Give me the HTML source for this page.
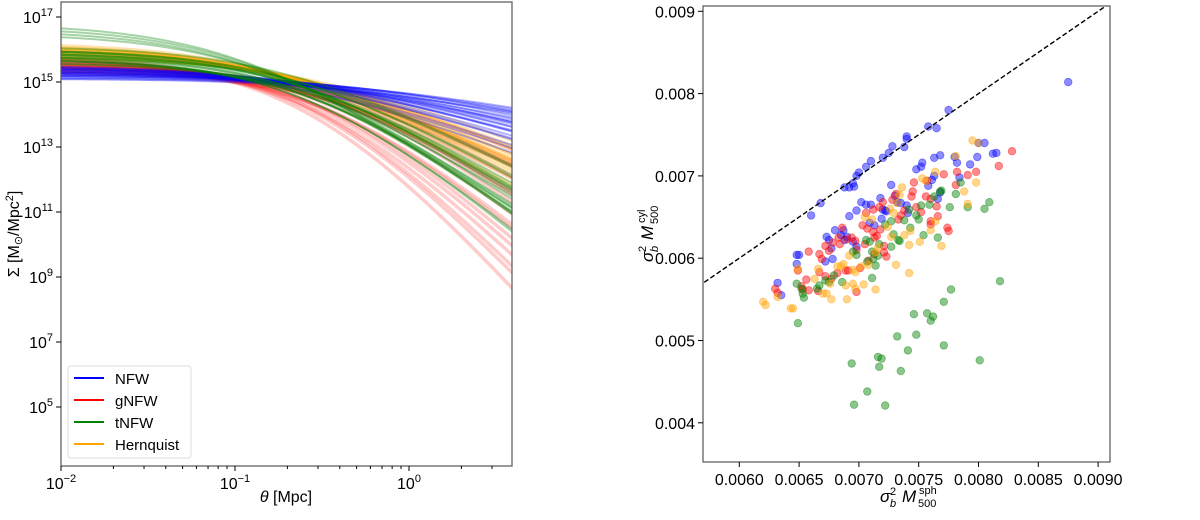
<!DOCTYPE html>
<html><head><meta charset="utf-8"><style>
body{margin:0;background:#fff;width:1200px;height:515px;overflow:hidden}
svg text{font-family:"Liberation Sans","DejaVu Sans",sans-serif;fill:#000}
</style></head><body>
<svg id="fig" width="1200" height="515" xmlns="http://www.w3.org/2000/svg">
<g id="left"></g>
<g id="right"></g>
</svg>
<script>
// ---- Left panel data: per-model profile parameters (log10 amplitude, scale radius, outer slope)
const models = ["NFW","gNFW","tNFW","Hernquist"];
const modelColors = ["#0000ff","#ff0000","#008000","#ffa500"];
const nfwLogA = [15.1,15.15,15.2,15.25,15.3,15.35,15.4,15.45,15.5,15.2,15.3,15.4,15.15,15.35,15.45,15.25,15.5,15.1,15.3,15.4,15.2,15.35,15.45,15.25];
const nfwRs   = [0.30,0.32,0.28,0.26,0.25,0.24,0.22,0.20,0.19,0.35,0.30,0.25,0.40,0.28,0.22,0.33,0.18,0.45,0.27,0.21,0.38,0.23,0.2,0.3];
const nfwK    = [0.9,1.0,1.1,1.2,1.3,1.4,1.5,1.6,1.7,1.0,1.25,1.45,0.95,1.35,1.55,1.15,1.8,0.9,1.5,1.65,1.05,1.9,2.0,1.3];
const gnfwLogA = [15.3,15.4,15.5,15.6,15.7,15.8,15.5,15.6,15.4,15.7,15.3,15.5,15.6,15.8,15.45,15.55,15.65,15.5,15.35,15.75];
const gnfwRs   = [0.30,0.32,0.35,0.33,0.30,0.28,0.40,0.36,0.38,0.30,0.45,0.34,0.31,0.27,0.42,0.37,0.3,0.33,0.4,0.29];
const gnfwK    = [2.5,3.0,3.6,4.2,4.8,5.5,3.3,4.0,2.8,5.0,2.4,3.5,4.5,6.0,3.0,3.8,5.2,4.4,2.7,5.7];
const tnfwLogA = [16.8,16.7,16.6,16.5,15.8,15.9,16.0,15.7,15.6,16.1,15.8,15.9,15.7,16.0,15.6,15.75,15.85,15.95,15.7,15.9,16.0,15.8];
const tnfwRs   = [0.10,0.10,0.11,0.11,0.25,0.22,0.20,0.28,0.30,0.18,0.24,0.21,0.26,0.19,0.32,0.27,0.23,0.20,0.29,0.22,0.2,0.25];
const tnfwK    = [3.6,3.4,3.5,3.2,3.6,3.3,3.0,4.0,3.5,2.7,4.3,3.1,3.8,2.9,3.4,4.5,3.9,3.2,4.1,3.7,3.3,2.8];
const hernLogA = [15.8,15.9,16.0,16.1,16.2,15.85,15.95,16.05,16.15,15.75,16.0,15.9,16.1,15.8,16.05,15.95];
const hernRs   = [0.20,0.18,0.17,0.16,0.15,0.19,0.17,0.16,0.15,0.22,0.18,0.19,0.16,0.2,0.17,0.18];
const hernK    = [2.1,2.3,2.5,2.7,2.9,2.2,2.4,2.6,3.0,2.0,2.8,2.35,3.1,2.15,2.55,2.45];
const xTickExp = [-2,-1,0];
const yTickExp = [5,7,9,11,13,15,17];

// ---- Right panel data
const scatterXTicks = ["0.0060","0.0065","0.0070","0.0075","0.0080","0.0085","0.0090"];
const scatterYTicks = ["0.004","0.005","0.006","0.007","0.008","0.009"];
const blueX=[0.00875,0.00775,0.00758,0.00765,0.0074,0.0074,0.00738,0.00728,0.00725,0.0072,0.0071,0.00706,0.007,0.00698,0.00695,0.00696,0.00692,0.00688,0.00668,0.0066,0.00805,0.008,0.00815,0.00812,0.0078,0.00768,0.00763,0.00782,0.00793,0.00799,0.00753,0.00752,0.00748,0.00763,0.00761,0.00784,0.00727,0.0073,0.00702,0.00706,0.0071,0.00718,0.0072,0.00722,0.00723,0.0074,0.00735,0.00698,0.00692,0.00687,0.0068,0.00685,0.00673,0.00675,0.00677,0.00648,0.0065,0.00632,0.00635,0.00648,0.00678,0.00672,0.00688,0.00695,0.00698,0.0069,0.00758,0.00766,0.00768,0.00709,0.00713,0.00719,0.00732,0.00741];
const blueY=[0.00814,0.0078,0.0076,0.00758,0.00748,0.00745,0.00735,0.00736,0.00728,0.00722,0.00718,0.00711,0.00704,0.007,0.00691,0.00687,0.00686,0.00686,0.00667,0.00652,0.0074,0.0074,0.00728,0.00727,0.00723,0.00725,0.00722,0.00716,0.00714,0.00723,0.00716,0.00711,0.00708,0.007,0.00695,0.00698,0.00689,0.00676,0.00668,0.00665,0.00665,0.00673,0.00659,0.00658,0.00657,0.00664,0.00667,0.00658,0.00651,0.00634,0.00634,0.00628,0.00626,0.00622,0.00612,0.00604,0.00604,0.0057,0.00555,0.00593,0.00599,0.00596,0.00622,0.0062,0.00614,0.00626,0.00688,0.00672,0.0068,0.00643,0.0064,0.00648,0.00668,0.00655];
const redX=[0.00828,0.00817,0.00798,0.00791,0.00782,0.00781,0.00771,0.00757,0.00746,0.00745,0.00744,0.00756,0.0076,0.00765,0.00766,0.0076,0.0076,0.00774,0.00775,0.00752,0.00748,0.00738,0.00735,0.00733,0.00731,0.00728,0.0072,0.00717,0.00712,0.00706,0.00703,0.00707,0.00712,0.00715,0.00718,0.00713,0.00705,0.00721,0.00721,0.00723,0.00713,0.00708,0.00701,0.00698,0.00697,0.00694,0.0069,0.00686,0.00683,0.00684,0.00678,0.00672,0.00675,0.00667,0.00669,0.00658,0.00667,0.00672,0.00677,0.00682,0.00689,0.00649,0.00656,0.00658,0.00652,0.00653,0.00666,0.0063,0.00632,0.00698,0.00691];
const redY=[0.0073,0.00712,0.00705,0.00701,0.00705,0.00689,0.00702,0.00694,0.00692,0.00681,0.00675,0.00675,0.00672,0.00663,0.00651,0.00645,0.00641,0.00637,0.00633,0.00656,0.00662,0.00658,0.00652,0.00647,0.00678,0.00671,0.00668,0.00662,0.00659,0.00655,0.0064,0.00636,0.00632,0.00627,0.00635,0.00625,0.00617,0.00615,0.00607,0.00602,0.00605,0.00597,0.00588,0.0061,0.00621,0.00625,0.00623,0.00637,0.00625,0.00617,0.00619,0.00615,0.00609,0.00605,0.00599,0.00608,0.00583,0.00578,0.00575,0.00582,0.00585,0.00585,0.00574,0.00561,0.00566,0.00562,0.0056,0.00563,0.00558,0.00559,0.00585];
const greenX=[0.00818,0.00809,0.00805,0.00791,0.00785,0.00781,0.00776,0.00769,0.00768,0.00766,0.00777,0.00771,0.00762,0.0076,0.00757,0.00746,0.00748,0.00771,0.00741,0.00732,0.00735,0.00716,0.00719,0.00717,0.00694,0.00707,0.00696,0.00722,0.00801,0.00649,0.00654,0.00653,0.00648,0.00652,0.00665,0.00667,0.00672,0.00675,0.00679,0.00686,0.00695,0.00698,0.00707,0.00712,0.00714,0.00711,0.00716,0.00717,0.00722,0.00727,0.00729,0.00727,0.00734,0.00743,0.00748,0.00752,0.00754,0.00759,0.00763,0.0075,0.00742,0.00738,0.00733,0.00706,0.00709,0.00711];
const greenY=[0.00572,0.00668,0.0066,0.00662,0.00692,0.00678,0.00662,0.00682,0.00681,0.00625,0.00562,0.00547,0.00529,0.00524,0.00533,0.00532,0.00507,0.00494,0.00488,0.00505,0.00463,0.0048,0.00478,0.00468,0.00472,0.00438,0.00422,0.00421,0.00476,0.00521,0.00552,0.00557,0.00569,0.00563,0.00563,0.00567,0.00573,0.00571,0.00579,0.00571,0.00608,0.00604,0.00596,0.00599,0.00591,0.00576,0.00603,0.00617,0.00641,0.00645,0.00629,0.00614,0.00621,0.00637,0.00652,0.00664,0.00628,0.00665,0.00675,0.00647,0.00659,0.00646,0.00622,0.00622,0.0062,0.00608];
const orangeX=[0.00795,0.008,0.00781,0.00798,0.00788,0.00791,0.00769,0.00764,0.0076,0.00753,0.00756,0.00764,0.00751,0.00742,0.00742,0.00731,0.00736,0.00734,0.00732,0.00726,0.00738,0.00743,0.00727,0.00724,0.00716,0.00714,0.00714,0.00702,0.00708,0.00704,0.00695,0.00697,0.00695,0.00697,0.00689,0.0069,0.00692,0.00685,0.00687,0.00682,0.00676,0.00673,0.00677,0.0067,0.00666,0.00663,0.00649,0.00645,0.00643,0.00632,0.0062,0.00622,0.00711,0.00705,0.00729];
const orangeY=[0.00743,0.0074,0.00724,0.00692,0.00681,0.00666,0.00615,0.00645,0.00634,0.00697,0.00694,0.00705,0.0062,0.00616,0.00582,0.00592,0.00686,0.00677,0.00667,0.0066,0.00628,0.00633,0.00626,0.00638,0.00613,0.00607,0.00562,0.0059,0.00592,0.00568,0.00569,0.00563,0.00586,0.00583,0.00567,0.0055,0.00603,0.0059,0.00593,0.0059,0.00569,0.00557,0.0055,0.00557,0.00587,0.00575,0.00587,0.00539,0.00539,0.00553,0.00547,0.00543,0.00647,0.0065,0.00655];

const NS="http://www.w3.org/2000/svg";
function mk(parent,tag,attrs,text){const e=document.createElementNS(NS,tag);for(const k in attrs)e.setAttribute(k,attrs[k]);if(text!==undefined)e.innerHTML=text;parent.appendChild(e);return e;}

// ---- Left panel
const L={x0:61,x1:512,y0:2,y1:466};
const lx=v=>L.x0+(Math.log10(v)+2)*174;
const ly=l=>17+(17-l)*32.5;
const left=document.getElementById('left');
const clipL=mk(left,'clipPath',{id:'cl'});mk(clipL,'rect',{x:L.x0,y:L.y0,width:L.x1-L.x0,height:L.y1-L.y0});
const curveG=mk(left,'g',{'clip-path':'url(#cl)'});


function drawFamily(logA,rs,k,color,name,alpha,w){
  for(let i=0;i<logA.length;i++){
    let d='';
    for(let j=0;j<=80;j++){
      const t=Math.pow(10,-2+j*(0.6+2)/80);
      const l=logA[i]-k[i]*Math.log10(1+t/rs[i]);
      d+=(j?'L':'M')+lx(t).toFixed(1)+','+ly(l).toFixed(1);
    }
    const p=mk(curveG,'path',{d:d,fill:'none',stroke:color,'stroke-opacity':alpha,'stroke-width':w});
    
    
  }
}
drawFamily(gnfwLogA,gnfwRs,gnfwK,modelColors[1],'gnfw',0.2,3.5);
drawFamily(hernLogA,hernRs,hernK,modelColors[3],'hernquist',0.3,3);
drawFamily(nfwLogA,nfwRs,nfwK,modelColors[0],'nfw',0.3,2);
drawFamily(tnfwLogA,tnfwRs,tnfwK,modelColors[2],'tnfw',0.35,2);
mk(left,'rect',{x:L.x0,y:L.y0,width:L.x1-L.x0,height:L.y1-L.y0,fill:'none',stroke:'#555','stroke-width':1.2,});
xTickExp.forEach(e=>{
  const x=lx(Math.pow(10,e));
  mk(left,'line',{x1:x,x2:x,y1:L.y1,y2:L.y1+5,stroke:'#000'});
  const t=mk(left,'text',{x:x,y:L.y1+23,'font-size':16,'text-anchor':'middle'},'10<tspan dy="-7" font-size="11">'+(e<0?'\u2212'+(-e):e)+'</tspan>');
  
  
  for(let m=2;m<=9;m++){const v=m*Math.pow(10,e);const xm=lx(v);if(xm<=L.x1)mk(left,'line',{x1:xm,x2:xm,y1:L.y1,y2:L.y1+3,stroke:'#000'});}
});
yTickExp.forEach(e=>{
  const y=ly(e);
  mk(left,'line',{x1:L.x0-5,x2:L.x0,y1:y,y2:y,stroke:'#000'});
  const t=mk(left,'text',{x:L.x0-8,y:y+6,'font-size':16,'text-anchor':'end'},'10<tspan dy="-7" font-size="11">'+e+'</tspan>');
  
  
});
mk(left,'text',{x:286,y:502,'font-size':16,'text-anchor':'middle',},'<tspan font-style="italic">θ</tspan> [Mpc]');
mk(left,'text',{transform:'translate(19,234) rotate(-90)','font-size':16,'text-anchor':'middle',},'Σ [M<tspan font-size="11" dy="3">⊙</tspan><tspan dy="-3">/Mpc</tspan><tspan dy="-6" font-size="11">2</tspan><tspan dy="6">]</tspan>');
const leg=mk(left,'g',{});
mk(leg,'rect',{x:68,y:366,width:123,height:92,rx:3,fill:'#fff','fill-opacity':0.8,stroke:'#ddd'});
models.forEach((m,i)=>{
  const y=378+i*22;
  const g=mk(leg,'g',{});
  
  
  mk(g,'line',{x1:74,x2:104,y1:y,y2:y,stroke:modelColors[i],'stroke-width':2});
  mk(g,'text',{x:115,y:y+6,'font-size':15},m);
});

// ---- Right panel
const R={x0:703,x1:1110,y0:6,y1:462};
const rx=v=>739.3+(v-0.006)/0.0005*59.8;
const ry=v=>11.3+(0.009-v)/0.001*82.3;
const right=document.getElementById('right');
const clipR=mk(right,'clipPath',{id:'cr'});mk(clipR,'rect',{x:R.x0,y:R.y0,width:R.x1-R.x0,height:R.y1-R.y0});
const pts=mk(right,'g',{'clip-path':'url(#cr)'});


function drawPts(X,Y,color,name){
  for(let i=0;i<X.length;i++){
    const c=mk(pts,'circle',{cx:rx(X[i]).toFixed(1),cy:ry(Y[i]).toFixed(1),r:3.8,fill:color,'fill-opacity':0.45,stroke:color,'stroke-opacity':0.45,'stroke-width':0.8});
    
    
  }
}
drawPts(blueX,blueY,'#0000ff','nfw');
drawPts(redX,redY,'#ff0000','gnfw');
drawPts(greenX,greenY,'#008000','tnfw');
drawPts(orangeX,orangeY,'#ffa500','hernquist');
mk(pts,'line',{x1:rx(0.0055),y1:ry(0.0055),x2:rx(0.0095),y2:ry(0.0095),stroke:'#000','stroke-width':1.4,'stroke-dasharray':'5,2.5',});
mk(right,'rect',{x:R.x0,y:R.y0,width:R.x1-R.x0,height:R.y1-R.y0,fill:'none',stroke:'#555','stroke-width':1.2,});
scatterXTicks.forEach(s=>{
  const x=rx(parseFloat(s));
  mk(right,'line',{x1:x,x2:x,y1:R.y1,y2:R.y1+5,stroke:'#000'});
  const t=mk(right,'text',{x:x,y:R.y1+23,'font-size':16,'text-anchor':'middle'},s);
  
  
});
scatterYTicks.forEach(s=>{
  const y=ry(parseFloat(s));
  mk(right,'line',{x1:R.x0-5,x2:R.x0,y1:y,y2:y,stroke:'#000'});
  const t=mk(right,'text',{x:R.x0-8,y:y+6,'font-size':16,'text-anchor':'end'},s);
  
  
});
function sigmaLabel(parent,name,sup,attrs){
  const g=mk(parent,'g',attrs);
  
  
  mk(g,'text',{x:0,y:0,'font-size':17,'font-style':'italic'},'σ');
  mk(g,'text',{x:10,y:5,'font-size':11,'font-style':'italic'},'b');
  mk(g,'text',{x:10,y:-7,'font-size':11},'2');
  mk(g,'text',{x:22,y:0,'font-size':17,'font-style':'italic'},'M');
  mk(g,'text',{x:38,y:5,'font-size':11},'500');
  mk(g,'text',{x:39,y:-8,'font-size':11},sup);
  return g;
}
sigmaLabel(right,'x-axis-title','sph',{transform:'translate(880,502)'});
sigmaLabel(right,'y-axis-title','cyl',{transform:'translate(653,262) rotate(-90)'});
</script>
</body></html>
